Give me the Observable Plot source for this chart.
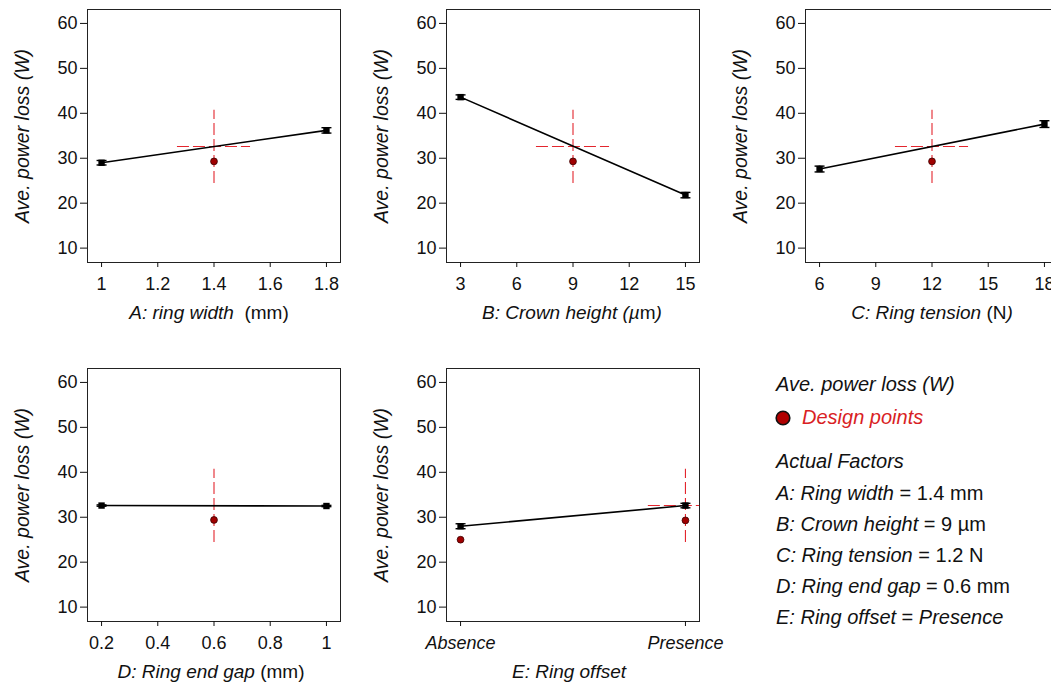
<!DOCTYPE html>
<html><head><meta charset="utf-8">
<script src="https://cdn.jsdelivr.net/npm/d3@7"></script>
<script src="https://cdn.jsdelivr.net/npm/@observablehq/plot@0.6"></script>
<style>
html,body{margin:0;padding:0;background:#fff;overflow:hidden;}
#root{position:relative;width:1051px;height:687px;font-family:"Liberation Sans",Arial,sans-serif;color:#111;overflow:hidden;}
.panel{position:absolute;}
.xlab{position:absolute;font-size:19px;line-height:22px;white-space:pre;transform:translateX(-50%);}
.leg{position:absolute;left:776px;font-size:20px;line-height:22px;white-space:pre;}
</style></head>
<body><div id="root"></div>
<script>
// ---- data ----
const yTicks = [10, 20, 30, 40, 50, 60];
const yLabel = "Ave. power loss (W)";

const aLevels = [1, 1.8];   const aPower = [29.0, 36.2]; const aErr = [0.5, 0.6];
const bLevels = [3, 15];    const bPower = [43.6, 21.8]; const bErr = [0.5, 0.6];
const cLevels = [6, 18];    const cPower = [27.6, 37.6]; const cErr = [0.65, 0.75];
const dLevels = [0.2, 1];   const dPower = [32.6, 32.5]; const dErr = [0.15, 0.15];
const eLevels = ["Absence", "Presence"]; const eCodes = [0, 1];
const ePower = [28.0, 32.6]; const eErr = [0.55, 0.5];

const aTicks = [1, 1.2, 1.4, 1.6, 1.8];
const bTicks = [3, 6, 9, 12, 15];
const cTicks = [6, 9, 12, 15, 18];
const dTicks = [0.2, 0.4, 0.6, 0.8, 1];

// design points
const aDesignX = [1.4]; const aDesignY = [29.3];
const bDesignX = [9];   const bDesignY = [29.3];
const cDesignX = [12];  const cDesignY = [29.3];
const dDesignX = [0.6]; const dDesignY = [29.4];
const eDesignX = [0, 1]; const eDesignY = [25.0, 29.3];

// current factor setting: predicted value and interval
const predicted = 32.6;
const ciLow = 24.4, ciHigh = 40.7;
const aSpan = [1.27, 1.4, 1.53];
const bSpan = [7.05, 9, 10.95];
const cSpan = [10.05, 12, 13.95];
const dSpan = [0.47, 0.6, 0.73];
const eSpan = [0.835, 1, 1.165];

const legendFactors = ["A: Ring width", "B: Crown height", "C: Ring tension", "D: Ring end gap", "E: Ring offset"];
const legendValues = ["1.4 mm", "9 \u00b5m", "1.2 N", "0.6 mm", "Presence"];

// ---- drawing ----
const capSymbol = {draw(ctx) { ctx.moveTo(-5, 0); ctx.lineTo(5, 0); }};
const red = "#e3262e";

function panel({levels, power, err, ticks, tickFormat, designX, designY, span, italicTicks}) {
  const lo = levels[0], hi = levels[levels.length - 1], pad = (hi - lo) / 16;
  const pts = levels.map((x, i) => ({x, y: power[i], e: err[i]}));
  const des = designX.map((x, i) => ({x, y: designY[i]}));
  return Plot.plot({
    width: 350, height: 300,
    marginLeft: 87, marginRight: 10, marginTop: 9, marginBottom: 38,
    style: {fontFamily: "'Liberation Sans', Arial, sans-serif", fontSize: "18px", color: "#111", overflow: "visible", background: "transparent"},
    x: {domain: [lo - pad, hi + pad]},
    y: {domain: [6.8, 63.1]},
    marks: [
      Plot.frame({stroke: "#222", strokeWidth: 1}),
      Plot.axisY({ticks: yTicks, tickSize: 7, tickPadding: 3, label: null}),
      Plot.axisX({ticks, tickFormat, tickSize: 5, tickPadding: 10, label: null, fontStyle: italicTicks ? "italic" : "normal"}),
      Plot.text([yLabel], {text: d => d, frameAnchor: "left", textAnchor: "middle", lineAnchor: "middle", dx: -65, rotate: -90, fontStyle: "italic", fontSize: 19.5}),
      Plot.ruleX([span], {x: d => d[1], y1: () => ciLow, y2: () => ciHigh, stroke: red, strokeWidth: 1.1, strokeDasharray: "12,4"}),
      Plot.ruleY([span], {y: () => predicted, x1: d => d[0], x2: d => d[2], stroke: red, strokeWidth: 1.1, strokeDasharray: "12,4", clip: true}),
      Plot.line(pts, {x: "x", y: "y", stroke: "#000", strokeWidth: 1.6}),
      Plot.ruleX(pts, {x: "x", y1: d => d.y - d.e, y2: d => d.y + d.e, stroke: "#000", strokeWidth: 2}),
      Plot.dot(pts, {x: "x", y: d => d.y - d.e, symbol: capSymbol, stroke: "#000", strokeWidth: 1.4, fill: "none"}),
      Plot.dot(pts, {x: "x", y: d => d.y + d.e, symbol: capSymbol, stroke: "#000", strokeWidth: 1.4, fill: "none"}),
      Plot.dot(pts, {x: "x", y: "y", symbol: "square", r: 3.6, fill: "#000", stroke: "none"}),
      Plot.dot(des, {x: "x", y: "y", r: 3.4, fill: "#a00000", stroke: "#3a0000", strokeWidth: 0.8})
    ]
  });
}

const root = document.getElementById("root");
function place(node, left, top) {
  node.classList.add("panel");
  node.style.left = left + "px";
  node.style.top = top + "px";
  root.appendChild(node);
}

place(panel({levels: aLevels, power: aPower, err: aErr, ticks: aTicks, tickFormat: d3.format("~g"), designX: aDesignX, designY: aDesignY, span: aSpan}), 0, 0);
place(panel({levels: bLevels, power: bPower, err: bErr, ticks: bTicks, tickFormat: d3.format("~g"), designX: bDesignX, designY: bDesignY, span: bSpan}), 359, 0);
place(panel({levels: cLevels, power: cPower, err: cErr, ticks: cTicks, tickFormat: d3.format("~g"), designX: cDesignX, designY: cDesignY, span: cSpan}), 718, 0);
place(panel({levels: dLevels, power: dPower, err: dErr, ticks: dTicks, tickFormat: d3.format("~g"), designX: dDesignX, designY: dDesignY, span: dSpan}), 0, 359);
place(panel({levels: eCodes, power: ePower, err: eErr, ticks: eCodes, tickFormat: i => eLevels[i], designX: eDesignX, designY: eDesignY, span: eSpan, italicTicks: true}), 359, 359);

// x-axis titles (below each plot)
const xTitles = [
  {html: "<i>A: ring width</i>  (mm)", x: 209, base: 319},
  {html: "<i>B: Crown height (\u00b5</i>m<i>)</i>", x: 572, base: 319},
  {html: "<i>C: Ring tension</i> (N<i>)</i>", x: 932, base: 319},
  {html: "<i>D: Ring end gap</i> (mm)", x: 211, base: 678},
  {html: "<i>E: Ring offset</i>", x: 569, base: 678}
];
for (const t of xTitles) {
  const d = document.createElement("div");
  d.className = "xlab";
  d.innerHTML = t.html;
  d.style.left = t.x + "px";
  d.style.top = (t.base - 17.5) + "px";
  root.appendChild(d);
}

// legend / annotation block
function leg(html, base, extra) {
  const d = document.createElement("div");
  d.className = "leg";
  d.innerHTML = html;
  d.style.top = (base - 18) + "px";
  if (extra) Object.assign(d.style, extra);
  root.appendChild(d);
}
leg("<i>Ave. power loss (W)</i>", 391);
leg("<i style='color:#d91e24'>Design points</i>", 424, {left: "802px"});
const dotSvg = document.createElementNS("http://www.w3.org/2000/svg", "svg");
dotSvg.setAttribute("width", 18); dotSvg.setAttribute("height", 18);
dotSvg.style.position = "absolute"; dotSvg.style.left = "774px"; dotSvg.style.top = "409px";
dotSvg.innerHTML = "<circle cx='9' cy='9' r='6.8' fill='#b00000' stroke='#111' stroke-width='1.6'/>";
root.appendChild(dotSvg);
leg("<i>Actual Factors</i>", 468);
legendFactors.forEach((f, i) => {
  const v = i === 4 ? "<i>" + legendValues[i] + "</i>" : legendValues[i];
  leg("<i>" + f + "</i> = " + v, 500 + i * 31);
});
</script>
</body></html>
